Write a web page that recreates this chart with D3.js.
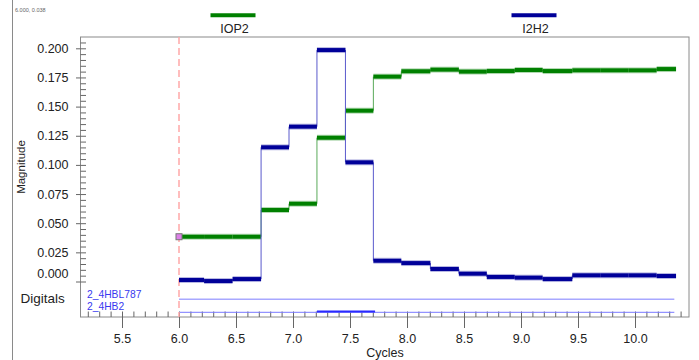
<!DOCTYPE html>
<html>
<head>
<meta charset="utf-8">
<script src="https://cdn.jsdelivr.net/npm/d3@7"></script>
<style>
  html, body { margin: 0; padding: 0; background: #fff; }
  svg { display: block; font-family: "Liberation Sans", Arial, sans-serif; }
</style>
</head>
<body>
<svg id="chart" width="699" height="360"></svg>
<script>
// ---- data ----
const stepEdges = [6.0, 6.22, 6.47, 6.72, 6.965, 7.21, 7.46, 7.705, 7.95, 8.205, 8.455, 8.70, 8.945, 9.19, 9.45, 9.70, 9.945, 10.19, 10.36];
const iop2 = [0.0384, 0.0384, 0.0384, 0.0613, 0.0667, 0.1233, 0.1465, 0.1757, 0.1803, 0.1817, 0.1800, 0.1805, 0.1814, 0.1805, 0.1811, 0.1811, 0.1811, 0.1822];
const i2h2 = [0.0013, 0.0004, 0.0021, 0.1151, 0.1328, 0.1985, 0.1022, 0.0178, 0.0158, 0.0107, 0.0067, 0.0039, 0.0033, 0.0021, 0.0053, 0.0053, 0.0053, 0.0047];
const seriesNames = ["IOP2", "I2H2"];
const digitalNames = ["2_4HBL787", "2_4HB2"];
const digitalHigh = [[], [[7.21, 7.72]]];
const digitalRange = [6.0, 10.345];
const cursorX = 6.0;
const cursorLabel = "6.000, 0.038";
const yMajorTicks = [0, 0.025, 0.05, 0.075, 0.1, 0.125, 0.15, 0.175, 0.2];
const xMajorTicks = [5.5, 6.0, 6.5, 7.0, 7.5, 8.0, 8.5, 9.0, 9.5, 10.0];

// ---- layout ----
const svg = d3.select("#chart");
const plotL = 80.5, plotR = 689, plotT = 37, plotB = 317;
const x = d3.scaleLinear().domain([6, 10]).range([179, 635]);
const y = d3.scaleLinear().domain([0, 0.2]).range([281.5, 48.3]);

// left page border
svg.append("line").attr("x1", 12.5).attr("x2", 12.5).attr("y1", 0).attr("y2", 360)
  .attr("stroke", "#8a8a8a").attr("stroke-width", 1);

svg.append("text").attr("x", 15).attr("y", 12).attr("font-size", 5.5).attr("fill", "#666")
  .text(cursorLabel);

// plot frame
svg.append("rect").attr("x", plotL).attr("y", plotT).attr("width", plotR - plotL).attr("height", plotB - plotT)
  .attr("fill", "none").attr("stroke", "#8a8a8a").attr("stroke-width", 1);

// legend
const legColors = ["#008000", "#000099"];
const legCenters = [233, 534];
seriesNames.forEach((n, i) => {
  svg.append("line").attr("x1", legCenters[i] - 22.5).attr("x2", legCenters[i] + 22.5)
    .attr("y1", 15.3).attr("y2", 15.3).attr("stroke", legColors[i]).attr("stroke-width", 4);
  svg.append("text").attr("x", legCenters[i] + 1.5).attr("y", 33).attr("text-anchor", "middle")
    .attr("font-size", 12.5).attr("fill", "#222").text(n);
});

// y axis: labels with short outer ticks
const yAxisL = svg.append("g").attr("transform", `translate(${plotL},0)`)
  .call(d3.axisLeft(y).tickValues(yMajorTicks).tickFormat(d3.format(".3f")).tickSize(4.5).tickPadding(7.5));
yAxisL.select(".domain").remove();
yAxisL.selectAll("line").attr("stroke", "#666");
yAxisL.selectAll("text").attr("font-size", 12.5).attr("fill", "#222");
yAxisL.selectAll(".tick").filter(d => d === 0).select("text").attr("dy", "-0.35em");

// y inner ticks (major + minor)
const yMinor = d3.range(0, 41).map(i => i * 0.005).concat([0.205]);
const yAxisR = svg.append("g").attr("transform", `translate(${plotL},0)`)
  .call(d3.axisLeft(y).tickValues(yMinor).tickFormat("").tickSize(-5.5));
yAxisR.select(".domain").remove();
yAxisR.selectAll("line").attr("stroke", "#666");

// x axis: major outer ticks with labels
const xAxisB = svg.append("g").attr("transform", `translate(0,${plotB})`)
  .call(d3.axisBottom(x).tickValues(xMajorTicks).tickFormat(d3.format(".1f")).tickSize(11).tickPadding(6));
xAxisB.select(".domain").remove();
xAxisB.selectAll("line").attr("stroke", "#666");
xAxisB.selectAll("text").attr("font-size", 12.5).attr("fill", "#222");

// x inner ticks every 0.1
const xMinor = d3.range(52, 105).map(i => i / 10);
const xAxisT = svg.append("g").attr("transform", `translate(0,${plotB})`)
  .call(d3.axisBottom(x).tickValues(xMinor).tickFormat("").tickSize(-5.5));
xAxisT.select(".domain").remove();
xAxisT.selectAll("line").attr("stroke", "#666");

// axis titles
svg.append("text").attr("transform", "translate(25,167) rotate(-90)").attr("text-anchor", "middle")
  .attr("font-size", 11.5).attr("fill", "#222").text("Magnitude");
svg.append("text").attr("x", 385).attr("y", 357).attr("text-anchor", "middle")
  .attr("font-size", 12.5).attr("fill", "#222").text("Cycles");
svg.append("text").attr("x", 20.5).attr("y", 303).attr("font-size", 13.5).attr("fill", "#222").text("Digitals");

// digitals
const digY = [299.3, 312.3];
const digTextY = [297.5, 310];
digitalNames.forEach((n, i) => {
  svg.append("text").attr("x", 87).attr("y", digTextY[i]).attr("font-size", 10.3).attr("fill", "#3838f0").text(n);
  svg.append("line").attr("x1", x(digitalRange[0])).attr("x2", x(digitalRange[1]))
    .attr("y1", digY[i]).attr("y2", digY[i]).attr("stroke", i === 0 ? "#a8a8ff" : "#7878ff").attr("stroke-width", i === 0 ? 1.5 : 1);
  digitalHigh[i].forEach(([a, b]) => {
    svg.append("line").attr("x1", x(a)).attr("x2", x(b)).attr("y1", digY[i] - 0.8).attr("y2", digY[i] - 0.8)
      .attr("stroke", "#2a2aff").attr("stroke-width", 2);
  });
});

// cursor
svg.append("line").attr("x1", x(cursorX)).attr("x2", x(cursorX)).attr("y1", plotT).attr("y2", plotB)
  .attr("stroke", "#ffa8a8").attr("stroke-width", 1.5).attr("stroke-dasharray", "7,4");

// step series
function drawSteps(vals, core, halo, conn) {
  const g = svg.append("g");
  for (let i = 1; i < vals.length; i++) {
    if (vals[i] !== vals[i - 1]) {
      g.append("line").attr("x1", x(stepEdges[i])).attr("x2", x(stepEdges[i]))
        .attr("y1", y(vals[i - 1])).attr("y2", y(vals[i]))
        .attr("stroke", conn).attr("stroke-width", 1);
    }
  }
  vals.forEach((v, i) => {
    g.append("line").attr("x1", x(stepEdges[i])).attr("x2", x(stepEdges[i + 1]))
      .attr("y1", y(v)).attr("y2", y(v)).attr("stroke", halo).attr("stroke-width", 6);
  });
  vals.forEach((v, i) => {
    g.append("line").attr("x1", x(stepEdges[i])).attr("x2", x(stepEdges[i + 1]))
      .attr("y1", y(v)).attr("y2", y(v)).attr("stroke", core).attr("stroke-width", 4);
  });
}
drawSteps(iop2, "#008000", "rgba(0,128,0,0.3)", "#5aaa5a");
drawSteps(i2h2, "#000099", "rgba(0,0,153,0.28)", "#5a5acc");

// cursor marker
svg.append("rect").attr("x", x(cursorX) - 3).attr("y", y(iop2[0]) - 3).attr("width", 6).attr("height", 6)
  .attr("fill", "#dd80e8").attr("stroke", "#777").attr("stroke-width", 1);
</script>
</body>
</html>
